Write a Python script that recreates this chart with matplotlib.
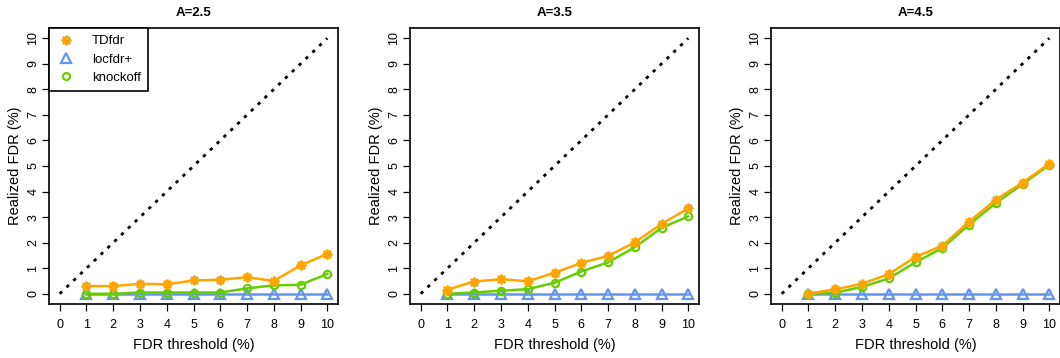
import matplotlib.pyplot as plt
import numpy as np

plt.rcParams['font.family'] = ['Liberation Sans', 'DejaVu Sans']

thresholds = [1, 2, 3, 4, 5, 6, 7, 8, 9, 10]
panel_titles = ["A=2.5", "A=3.5", "A=4.5"]

# realized FDR (%) per panel
tdfdr = [
    [0.30, 0.30, 0.39, 0.37, 0.52, 0.55, 0.65, 0.50, 1.11, 1.56],
    [0.16, 0.48, 0.57, 0.49, 0.82, 1.21, 1.48, 2.01, 2.73, 3.34],
    [0.01, 0.17, 0.39, 0.77, 1.44, 1.88, 2.82, 3.68, 4.35, 5.09],
]
locfdr_plus = [
    [0, 0, 0, 0, 0, 0, 0, 0, 0, 0],
    [0, 0, 0, 0, 0, 0, 0, 0, 0, 0],
    [0, 0, 0, 0, 0, 0, 0, 0, 0, 0],
]
knockoff = [
    [0.00, 0.00, 0.05, 0.05, 0.05, 0.05, 0.21, 0.33, 0.35, 0.78],
    [0.00, 0.05, 0.12, 0.18, 0.43, 0.87, 1.23, 1.82, 2.58, 3.03],
    [0.00, 0.04, 0.27, 0.60, 1.23, 1.79, 2.70, 3.55, 4.29, 5.04],
]
diag = [0, 10]
ticks = list(range(0, 11))

c_td = "#FFA500"
c_loc = "#6495ED"
c_ko = "#66CD00"

star = (8, 2, 0)
fig = plt.figure(figsize=(10.6, 3.58), dpi=100)
lefts = [49, 410, 771]

for i in range(3):
    ax = fig.add_axes([lefts[i] / 1060, 1 - 304 / 358, 289 / 1060, 276 / 358])
    ax.plot(diag, diag, color="black", lw=2, linestyle=(0, (1.2, 2.2)))
    ax.plot(thresholds, locfdr_plus[i], color=c_loc, lw=1.8, marker="^",
            markersize=6.8, markerfacecolor="none", markeredgewidth=1.6)
    ax.plot(thresholds, knockoff[i], color=c_ko, lw=1.8, marker="o",
            markersize=5.3, markerfacecolor="none", markeredgewidth=1.6)
    ax.plot(thresholds, tdfdr[i], color=c_td, lw=1.8, marker=star,
            markersize=7, markeredgewidth=1.6)
    ax.set_xlim(-0.4, 10.4)
    ax.set_ylim(-0.4, 10.4)
    ax.set_xticks(ticks)
    ax.set_yticks(ticks)
    ax.tick_params(direction="out", length=5, width=0.9, labelsize=9, colors="black")
    ax.tick_params(axis="x", pad=6)
    ax.tick_params(axis="y", pad=2)
    for lab in ax.get_yticklabels():
        lab.set_rotation(90)
        lab.set_va("center")
    for s in ax.spines.values():
        s.set_linewidth(1.2)
    ax.set_xlabel("FDR threshold (%)", fontsize=10.5, labelpad=5)
    ax.set_ylabel("Realized FDR (%)", fontsize=10.5, labelpad=4)
    ax.set_title(panel_titles[i], fontsize=9.5, fontweight="bold", pad=9)

    if i == 0:
        h1, = ax.plot([], [], linestyle="none", color=c_td, marker=star,
                      markersize=7, markeredgewidth=1.6)
        h2, = ax.plot([], [], linestyle="none", color=c_loc, marker="^",
                      markersize=6.5, markerfacecolor="none", markeredgewidth=1.6)
        h3, = ax.plot([], [], linestyle="none", color=c_ko, marker="o",
                      markersize=5, markerfacecolor="none", markeredgewidth=1.6)
        leg = ax.legend([h1, h2, h3], ["TDfdr", "locfdr+", "knockoff"],
                        loc="upper left", borderaxespad=0, fontsize=9.5,
                        fancybox=False, framealpha=1, edgecolor="black",
                        handletextpad=1.2, labelspacing=0.45,
                        borderpad=0.55, handlelength=1.5)
        leg.get_frame().set_linewidth(1.2)

fig.savefig("out.png", dpi=100)
